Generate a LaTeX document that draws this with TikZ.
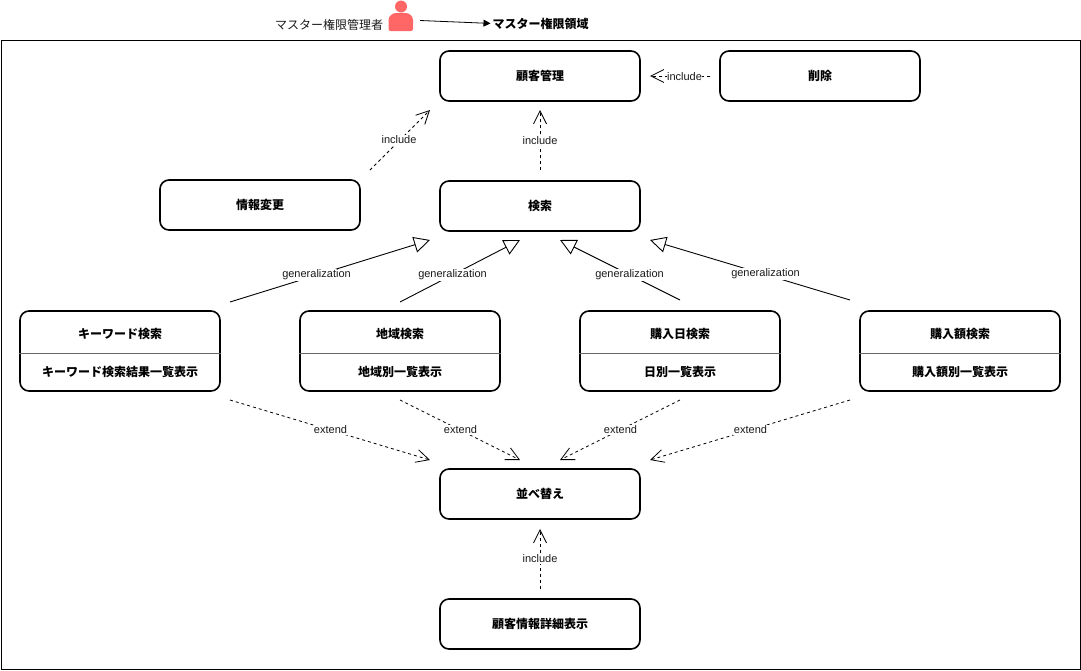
\documentclass[tikz,border=0pt]{standalone}
\usepackage{fontspec}
\setmainfont{Liberation Sans}
\newfontfamily\jpfont{Noto Sans CJK JP}
\usetikzlibrary{arrows.meta,calc}
\definecolor{lbl}{HTML}{1A1A1A}
\definecolor{actor}{HTML}{FF6666}
\tikzset{
  box/.style={draw=black,line width=1.6pt,rounded corners=9pt,minimum width=200pt,inner sep=0pt,fill=white,font=\jpfont\fontsize{12}{14}\selectfont\bfseries},
  plainbox/.style={box,minimum height=50pt},
  splitbox/.style={box,minimum height=80pt},
  inner/.style={font=\jpfont\fontsize{12}{14}\selectfont\bfseries,inner sep=0pt},
  divider/.style={draw=black!60,line width=1pt},
  lab/.style={font=\fontsize{11}{13}\selectfont,text=lbl,fill=white,inner sep=1pt},
  dep/.style={line width=.8pt,dash pattern=on 3pt off 3pt,-{Straight Barb[length=13pt,width=13pt,line width=.8pt]}},
  gen/.style={line width=.9pt,-{Triangle[open,length=16pt,width=16pt,fill=white,line width=.9pt]}},
}
\begin{document}
\begin{tikzpicture}[x=1pt,y=-1pt]
\useasboundingbox (0,0) rectangle (1081,670);
\node[draw=black,line width=.9pt,minimum width=1079pt,minimum height=629pt,inner sep=0pt] (frame) at (540.5,354.5) {};
% actor
\fill[actor] (401,6.5) circle (6);
\fill[actor,rounded corners=2pt] (388.5,31) -- (388.5,22) .. controls (388.5,16) and (393,13) .. (398,13) -- (404,13) .. controls (409,13) and (413,16) .. (413,22) -- (413,31) -- cycle;
\coordinate (actorend) at (420,20.5);
\node[font=\jpfont\fontsize{12}{14}\selectfont,text=lbl,inner sep=0pt,anchor=west] (mgr) at (275,25) {マスター権限管理者};
\node[font=\jpfont\fontsize{12}{14}\selectfont\bfseries,inner sep=0pt,anchor=west] (dom) at (492.5,23.5) {マスター権限領域};
\draw[line width=.8pt,-{Triangle[length=7pt,width=7pt]},shorten >=2pt] (actorend) -- (dom.west);
% boxes
\node[plainbox] (kokyaku) at (540,76) {顧客管理};
\node[plainbox] (sakujo) at (820,76) {削除};
\node[plainbox] (joho) at (260,205) {情報変更};
\node[plainbox] (kensaku) at (540,206) {検索};
\node[plainbox] (narabe) at (540,494) {並べ替え};
\node[plainbox] (shosai) at (540,624) {顧客情報詳細表示};
\foreach \n/\x/\a/\b in {kw/120/キーワード検索/キーワード検索結果一覧表示,ch/400/地域検索/地域別一覧表示,bi/680/購入日検索/日別一覧表示,ga/960/購入額検索/購入額別一覧表示}{
  \node[splitbox] (\n) at (\x,351) {};
  \draw[divider] ($(\n.west)+(0,2)$) -- ($(\n.east)+(0,2)$);
  \node[inner] (\n t) at (\x,334) {\a};
  \node[inner] (\n b) at (\x,372) {\b};
}
% free ends
\coordinate (a1) at (370,170); \coordinate (a2) at (430,110);
\coordinate (b1) at (540,170); \coordinate (b2) at (540,110);
\coordinate (c1) at (710,76);  \coordinate (c2) at (650,76);
\coordinate (g1) at (230,302); \coordinate (gt1) at (430,240);
\coordinate (g2) at (400,302); \coordinate (gt2) at (520,240);
\coordinate (g3) at (680,300); \coordinate (gt3) at (560,240);
\coordinate (g4) at (850,300); \coordinate (gt4) at (650,240);
\coordinate (e1) at (230,400); \coordinate (et1) at (430,460);
\coordinate (e2) at (400,400); \coordinate (et2) at (520,460);
\coordinate (e3) at (680,400); \coordinate (et3) at (560,460);
\coordinate (e4) at (850,400); \coordinate (et4) at (650,460);
\coordinate (i1) at (540,589); \coordinate (i2) at (540,529);
% dependency connectors
\draw[dep] (a1) -- (a2);
\node[lab] (la) at (399,140) {include};
\draw[dep] (b1) -- (b2);
\node[lab] (lb) at (540,141) {include};
\draw[dep] (c1) -- (c2);
\node[lab,inner sep=0pt] (lc) at (684.5,76.5) {include};
\draw[dep] (i1) -- (i2);
\node[lab] (li) at (540,559) {include};
\foreach \p/\q/\lx in {e1/et1/330.5,e2/et2/460.5,e3/et3/620.5,e4/et4/750.5}{
  \draw[dep] (\p) -- (\q);
  \node[lab] (l\p) at (\lx,430) {extend};
}
% generalization
\draw[gen] (g1) -- (gt1);
\node[lab] (lg1) at (316.5,275) {generalization};
\draw[gen] (g2) -- (gt2);
\node[lab] (lg2) at (452.5,275) {generalization};
\draw[gen] (g3) -- (gt3);
\node[lab] (lg3) at (629.5,275) {generalization};
\draw[gen] (g4) -- (gt4);
\node[lab] (lg4) at (765.5,274) {generalization};
\end{tikzpicture}
\end{document}
